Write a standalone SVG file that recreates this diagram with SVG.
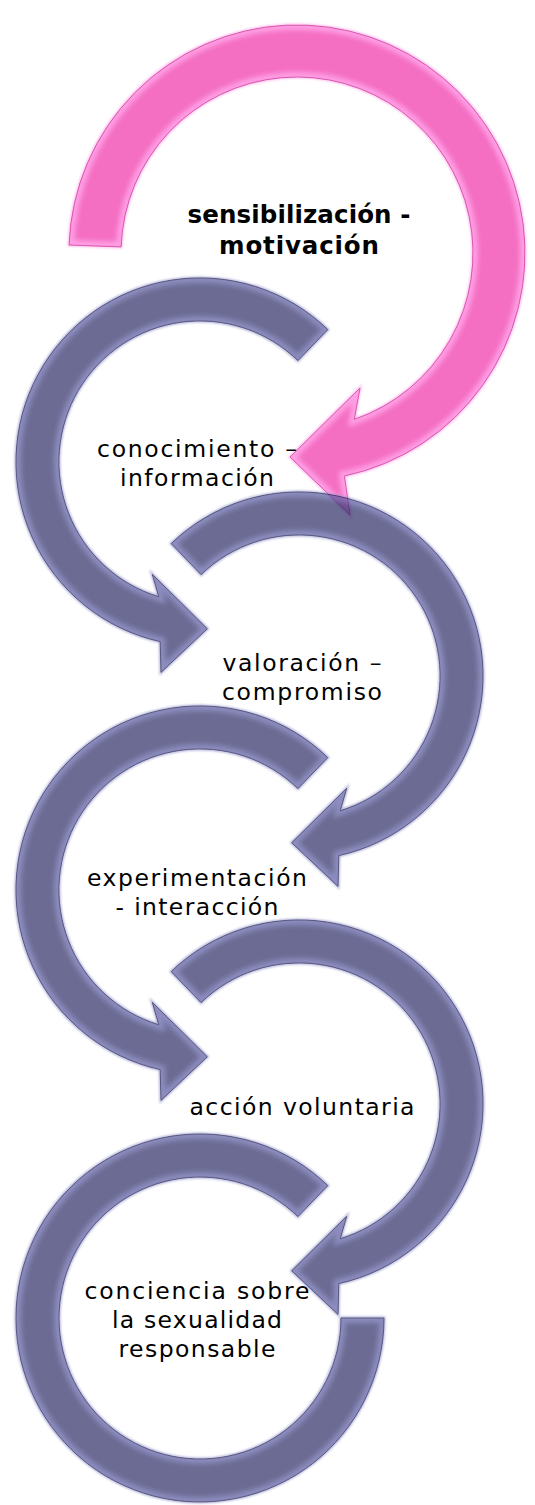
<svg xmlns="http://www.w3.org/2000/svg" xmlns:xlink="http://www.w3.org/1999/xlink" width="535" height="1505" viewBox="0 0 535 1505">
<style>
.txt{font-family:"DejaVu Sans","Liberation Sans",sans-serif;font-size:23.5px;fill:#000;text-anchor:middle}
.bold{font-weight:bold;font-size:24.5px}
.pBody{fill:#F46EC2}
.pHi{fill:none;stroke:#FF9FE4;stroke-width:10}
.pLine{fill:none;stroke:#D85AAE;stroke-width:1}
.pGlow{fill:none;stroke:#FFC0EE;stroke-width:3}
.gBody{fill:#2D2D66}
.gHi{fill:none;stroke:#5C5CA4;stroke-width:10}
.gLine{fill:none;stroke:#14144A;stroke-width:1}
.gGlow{fill:none;stroke:#9494CC;stroke-width:3}
</style>
<defs>
<filter id="blur" x="-10%" y="-10%" width="120%" height="120%"><feGaussianBlur stdDeviation="2.5"/></filter>
<filter id="glow" x="-10%" y="-10%" width="120%" height="120%"><feGaussianBlur stdDeviation="1.2"/></filter>
<path id="rShape" d="M -127.8,-132.4 A 184 184 0 1 1 39.8,179.6 L 39.0,210.4 L -7.3,166.8 L 47.7,112.3 L 41.2,134.8 A 141 141 0 1 0 -97.95,-101.4 Z"/>
<clipPath id="rClip"><use xlink:href="#rShape"/></clipPath>
<g id="grayR">
<use xlink:href="#rShape" class="gGlow" filter="url(#glow)"/>
<use xlink:href="#rShape" class="gBody"/>
<use xlink:href="#rShape" class="gHi" clip-path="url(#rClip)" filter="url(#blur)"/>
<use xlink:href="#rShape" class="gLine"/>
</g>
<path id="pShape" d="M 69.1,245.0 A 228 228 0 1 1 344.4,476.0 L 350,515 L 290,457 L 360,388 L 354.3,419.4 A 176 176 0 1 0 121.1,246.9 Z"/>
<clipPath id="pClip"><use xlink:href="#pShape"/></clipPath>
<path id="lastShape" d="M 327.8,1185.6 A 184 184 0 1 0 384,1318 L 341,1318 A 141 141 0 1 1 297.95,1216.6 Z"/>
<clipPath id="lastClip"><use xlink:href="#lastShape"/></clipPath>
</defs>
<g id="connectors"/>
<g id="node-sensibilizacion">
<use xlink:href="#pShape" class="pGlow" filter="url(#glow)"/>
<use xlink:href="#pShape" class="pBody"/>
<use xlink:href="#pShape" class="pHi" clip-path="url(#pClip)" filter="url(#blur)"/>
<use xlink:href="#pShape" class="pLine"/>
<text class="txt bold" x="299" y="223" textLength="223">sensibilización -</text>
<text class="txt bold" x="299" y="254" textLength="160">motivación</text>
</g>
<g id="node-conocimiento">
<use xlink:href="#grayR" opacity="0.7" transform="translate(200,462) scale(-1,1)"/>
<text class="txt" x="197" y="457" textLength="200">conocimiento –</text>
<text class="txt" x="197" y="486" textLength="154">información</text>
</g>
<g id="node-valoracion">
<use xlink:href="#grayR" opacity="0.7" transform="translate(299,676)"/>
<text class="txt" x="302" y="671" textLength="159">valoración –</text>
<text class="txt" x="302" y="700" textLength="160">compromiso</text>
</g>
<g id="node-experimentacion">
<use xlink:href="#grayR" opacity="0.7" transform="translate(200,890) scale(-1,1)"/>
<text class="txt" x="197" y="886" textLength="220">experimentación</text>
<text class="txt" x="197" y="915" textLength="163">- interacción</text>
</g>
<g id="node-accion">
<use xlink:href="#grayR" opacity="0.7" transform="translate(299,1104)"/>
<text class="txt" x="302" y="1115" textLength="225">acción voluntaria</text>
</g>
<g id="node-conciencia">
<g opacity="0.7">
<use xlink:href="#lastShape" class="gGlow" filter="url(#glow)"/>
<use xlink:href="#lastShape" class="gBody"/>
<use xlink:href="#lastShape" class="gHi" clip-path="url(#lastClip)" filter="url(#blur)"/>
<use xlink:href="#lastShape" class="gLine"/>
</g>
<text class="txt" x="197" y="1299" textLength="225">conciencia sobre</text>
<text class="txt" x="197" y="1328" textLength="170">la sexualidad</text>
<text class="txt" x="197" y="1357" textLength="157">responsable</text>
</g>
</svg>
